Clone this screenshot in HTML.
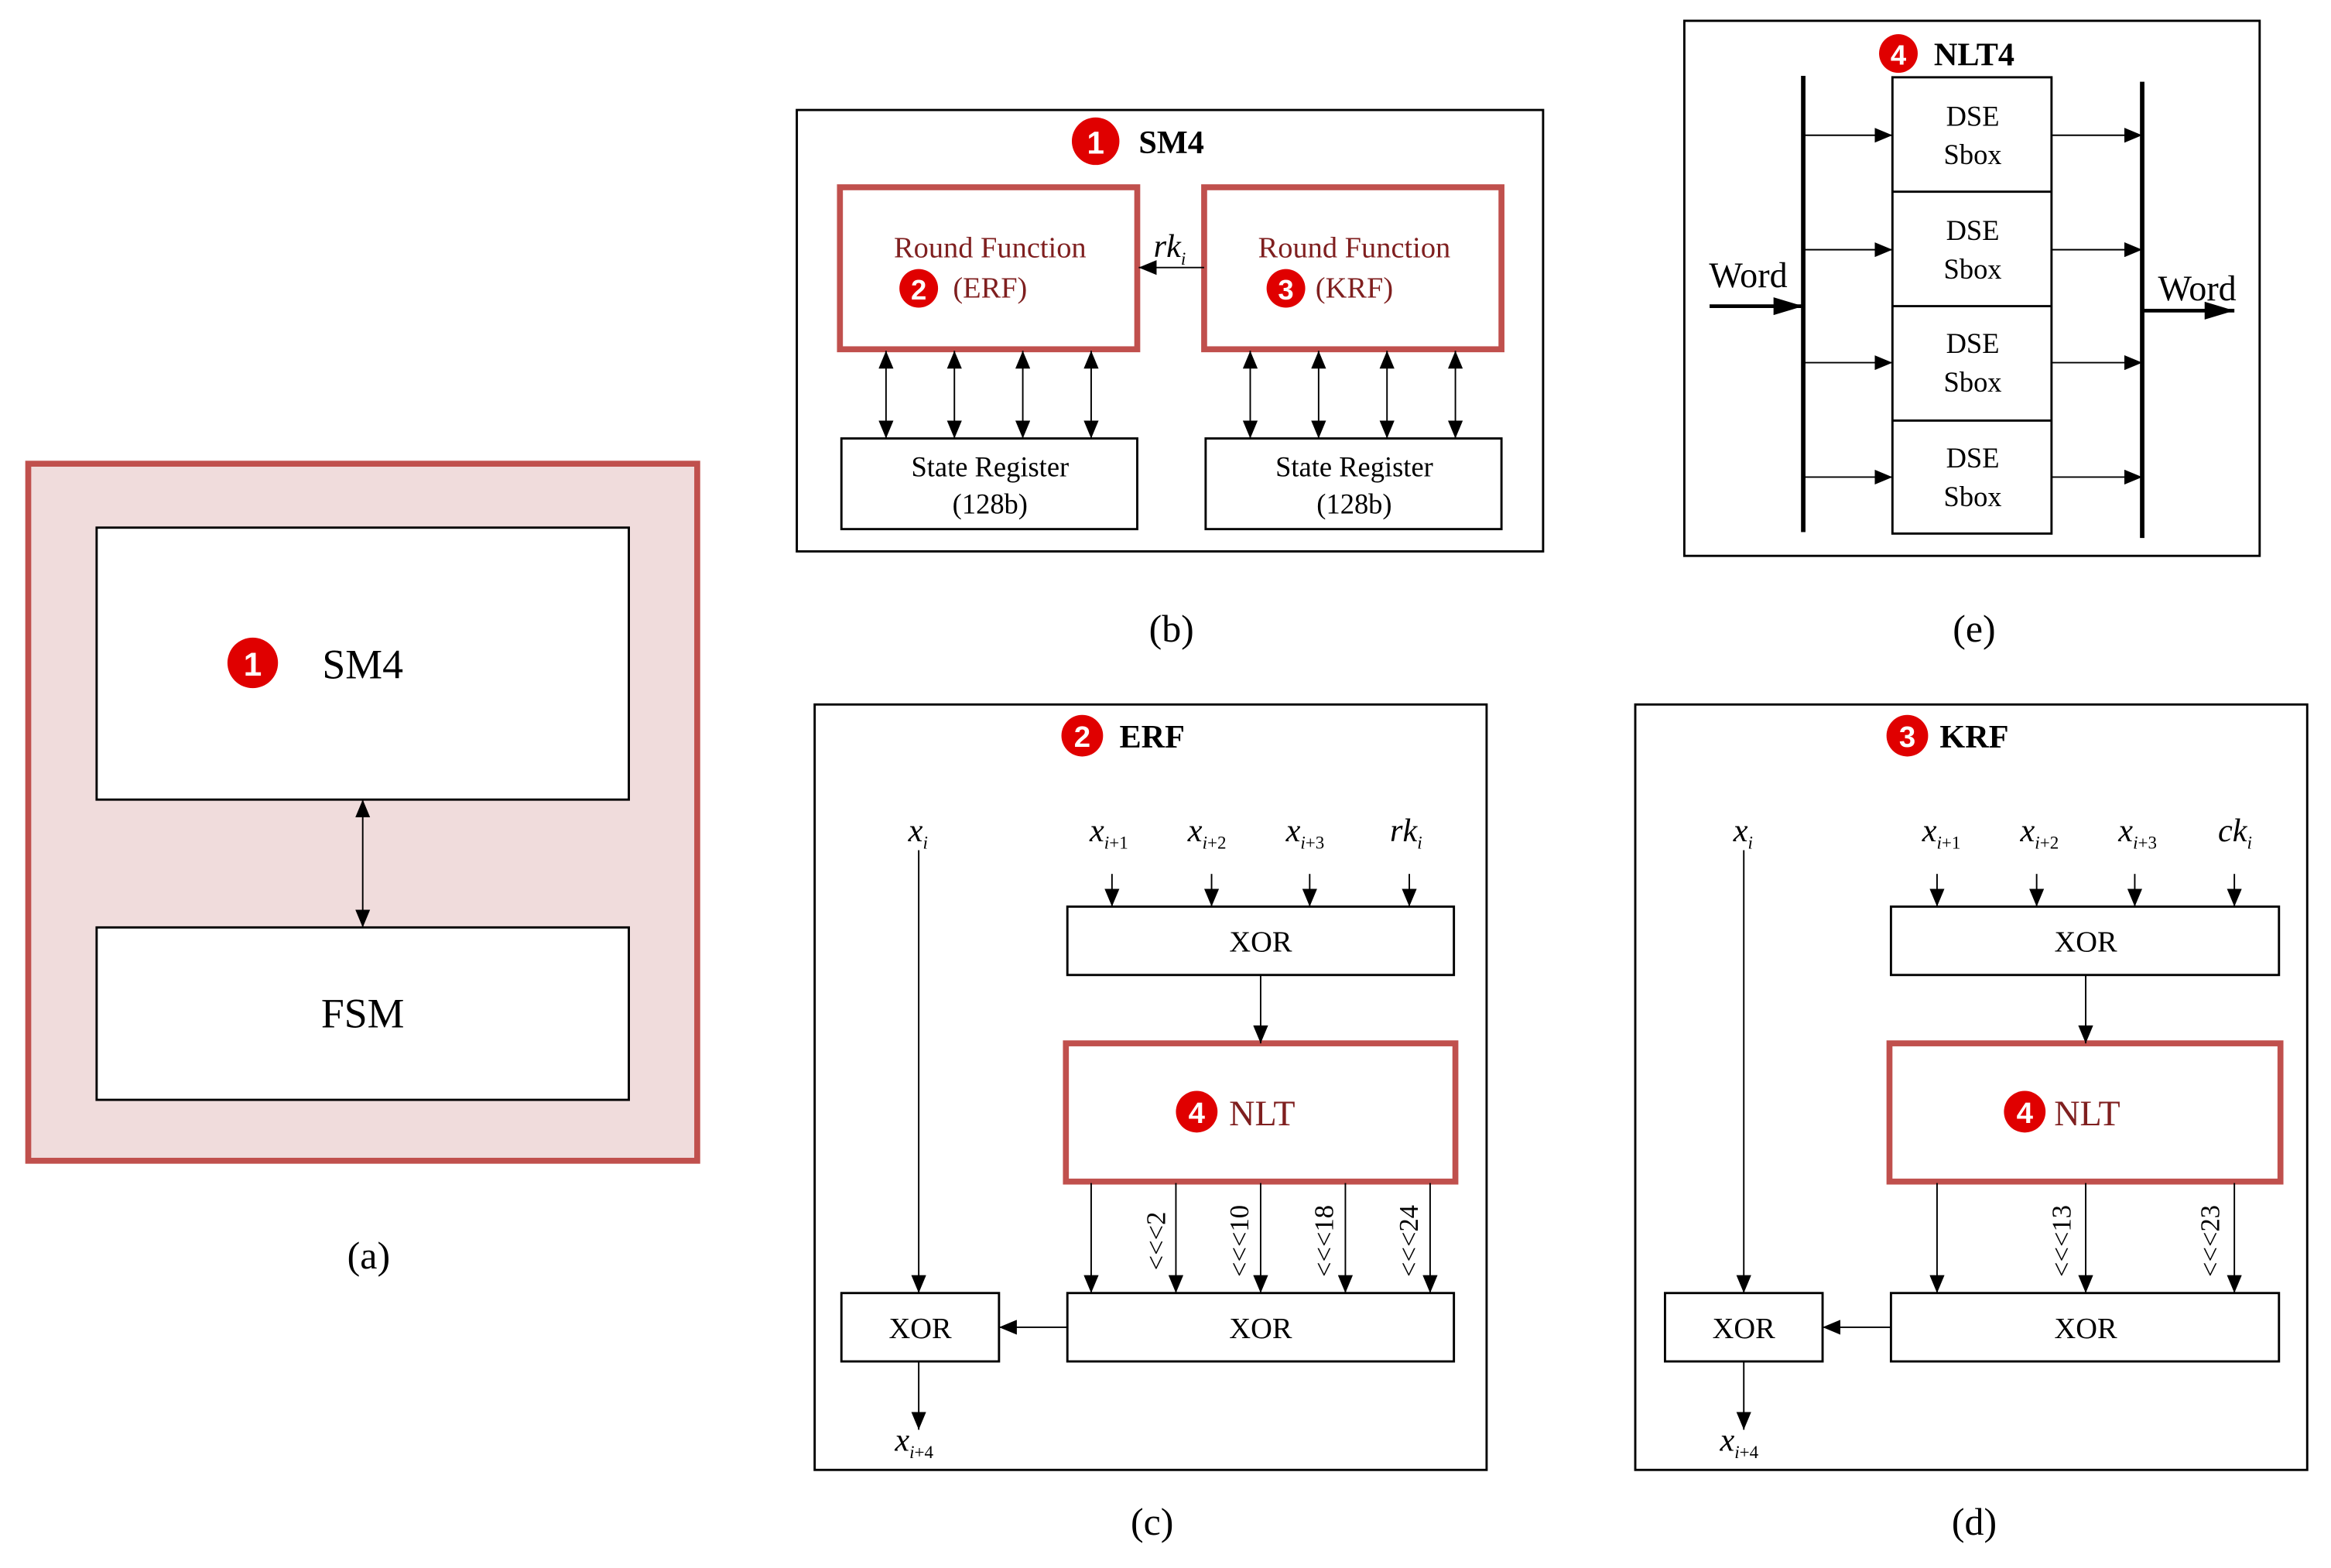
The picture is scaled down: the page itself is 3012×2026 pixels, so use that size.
<!DOCTYPE html>
<html><head><meta charset="utf-8"><style>html,body{margin:0;padding:0;background:#fff}svg{display:block}svg text{font-family:"Liberation Serif",serif}svg .sans{font-family:"Liberation Sans",sans-serif}</style></head>
<body>
<svg xmlns="http://www.w3.org/2000/svg" width="3012" height="2026" viewBox="0 0 1568 1055" preserveAspectRatio="none">
<defs>
<marker id="a" markerWidth="12" markerHeight="10" refX="12" refY="5" orient="auto-start-reverse" markerUnits="userSpaceOnUse"><path d="M0,0 L12,5 L0,10 z" fill="#000"/></marker>
<marker id="b" markerWidth="20" markerHeight="12" refX="20" refY="6" orient="auto" markerUnits="userSpaceOnUse"><path d="M0,0 L20,6 L0,12 z" fill="#000"/></marker>
</defs>
<rect width="1568" height="1055" fill="#fff"/>
<g fill="none" stroke="#000" stroke-width="1.5">
<rect x="19" y="312" width="450" height="469" fill="#f0dcdc" stroke="#c0504d" stroke-width="4"/>
<rect x="65" y="355" width="358" height="183" fill="#fff"/>
<rect x="65" y="624" width="358" height="116" fill="#fff"/>
<line x1="244" y1="538" x2="244" y2="624" stroke-width="1" marker-start="url(#a)" marker-end="url(#a)"/>
<rect x="536" y="74" width="502" height="297"/>
<rect x="565" y="126" width="200" height="109" stroke="#c0504d" stroke-width="4"/>
<rect x="810" y="126" width="200" height="109" stroke="#c0504d" stroke-width="4"/>
<line x1="810" y1="180" x2="766" y2="180" stroke-width="1" marker-end="url(#a)"/>
<rect x="566" y="295" width="199" height="61"/>
<rect x="811" y="295" width="199" height="61"/>
<g stroke-width="1">
<line x1="596" y1="236" x2="596" y2="295" marker-start="url(#a)" marker-end="url(#a)"/>
<line x1="642" y1="236" x2="642" y2="295" marker-start="url(#a)" marker-end="url(#a)"/>
<line x1="688" y1="236" x2="688" y2="295" marker-start="url(#a)" marker-end="url(#a)"/>
<line x1="734" y1="236" x2="734" y2="295" marker-start="url(#a)" marker-end="url(#a)"/>
<line x1="841" y1="236" x2="841" y2="295" marker-start="url(#a)" marker-end="url(#a)"/>
<line x1="887" y1="236" x2="887" y2="295" marker-start="url(#a)" marker-end="url(#a)"/>
<line x1="933" y1="236" x2="933" y2="295" marker-start="url(#a)" marker-end="url(#a)"/>
<line x1="979" y1="236" x2="979" y2="295" marker-start="url(#a)" marker-end="url(#a)"/>
</g>
<rect x="1133" y="14" width="387" height="360"/>
<line x1="1213" y1="51" x2="1213" y2="358" stroke-width="3"/>
<line x1="1441" y1="55" x2="1441" y2="362" stroke-width="3"/>
<rect x="1273" y="52" width="107" height="307"/>
<line x1="1273" y1="129" x2="1380" y2="129"/><line x1="1273" y1="206" x2="1380" y2="206"/><line x1="1273" y1="283" x2="1380" y2="283"/>
<g stroke-width="1">
<line x1="1213" y1="91" x2="1273" y2="91" marker-end="url(#a)"/><line x1="1380" y1="91" x2="1441" y2="91" marker-end="url(#a)"/>
<line x1="1213" y1="168" x2="1273" y2="168" marker-end="url(#a)"/><line x1="1380" y1="168" x2="1441" y2="168" marker-end="url(#a)"/>
<line x1="1213" y1="244" x2="1273" y2="244" marker-end="url(#a)"/><line x1="1380" y1="244" x2="1441" y2="244" marker-end="url(#a)"/>
<line x1="1213" y1="321" x2="1273" y2="321" marker-end="url(#a)"/><line x1="1380" y1="321" x2="1441" y2="321" marker-end="url(#a)"/>
</g>
<line x1="1150" y1="206" x2="1213" y2="206" stroke-width="2.5" marker-end="url(#b)"/>
<line x1="1441" y1="209" x2="1503" y2="209" stroke-width="2.5" marker-end="url(#b)"/>
<rect x="548" y="474" width="452" height="515"/>
<rect x="718" y="610" width="260" height="46"/>
<rect x="717" y="702" width="262" height="93" stroke="#c0504d" stroke-width="4"/>
<rect x="718" y="870" width="260" height="46"/>
<rect x="566" y="870" width="106" height="46"/>
<g stroke-width="1">
<line x1="618" y1="572" x2="618" y2="870" marker-end="url(#a)"/>
<line x1="748" y1="588" x2="748" y2="610" marker-end="url(#a)"/>
<line x1="815" y1="588" x2="815" y2="610" marker-end="url(#a)"/>
<line x1="881" y1="588" x2="881" y2="610" marker-end="url(#a)"/>
<line x1="948" y1="588" x2="948" y2="610" marker-end="url(#a)"/>
<line x1="848" y1="656" x2="848" y2="702" marker-end="url(#a)"/>
<line x1="734" y1="796" x2="734" y2="870" marker-end="url(#a)"/>
<line x1="791" y1="796" x2="791" y2="870" marker-end="url(#a)"/>
<line x1="848" y1="796" x2="848" y2="870" marker-end="url(#a)"/>
<line x1="905" y1="796" x2="905" y2="870" marker-end="url(#a)"/>
<line x1="962" y1="796" x2="962" y2="870" marker-end="url(#a)"/>
<line x1="718" y1="893" x2="672" y2="893" marker-end="url(#a)"/>
<line x1="618" y1="916" x2="618" y2="962" marker-end="url(#a)"/>
</g>
<rect x="1100" y="474" width="452" height="515"/>
<rect x="1272" y="610" width="261" height="46"/>
<rect x="1271" y="702" width="263" height="93" stroke="#c0504d" stroke-width="4"/>
<rect x="1272" y="870" width="261" height="46"/>
<rect x="1120" y="870" width="106" height="46"/>
<g stroke-width="1">
<line x1="1173" y1="572" x2="1173" y2="870" marker-end="url(#a)"/>
<line x1="1303" y1="588" x2="1303" y2="610" marker-end="url(#a)"/>
<line x1="1370" y1="588" x2="1370" y2="610" marker-end="url(#a)"/>
<line x1="1436" y1="588" x2="1436" y2="610" marker-end="url(#a)"/>
<line x1="1503" y1="588" x2="1503" y2="610" marker-end="url(#a)"/>
<line x1="1403" y1="656" x2="1403" y2="702" marker-end="url(#a)"/>
<line x1="1303" y1="796" x2="1303" y2="870" marker-end="url(#a)"/>
<line x1="1403" y1="796" x2="1403" y2="870" marker-end="url(#a)"/>
<line x1="1503" y1="796" x2="1503" y2="870" marker-end="url(#a)"/>
<line x1="1272" y1="893" x2="1226" y2="893" marker-end="url(#a)"/>
<line x1="1173" y1="916" x2="1173" y2="962" marker-end="url(#a)"/>
</g>
</g>
<g fill="#e00000">
<circle cx="170" cy="446" r="17"/><circle cx="737" cy="95" r="16"/>
<circle cx="618" cy="194" r="13"/><circle cx="865" cy="194" r="13"/>
<circle cx="1277" cy="36" r="13"/><circle cx="728" cy="495" r="14"/>
<circle cx="1283" cy="495" r="14"/><circle cx="805" cy="748" r="14"/><circle cx="1362" cy="748" r="14"/>
</g>
<g fill="#fff" font-weight="bold" text-anchor="middle" dominant-baseline="central">
<text class="sans" x="170" y="447" font-size="22">1</text><text class="sans" x="737" y="96" font-size="21">1</text>
<text class="sans" x="618" y="195" font-size="19">2</text><text class="sans" x="865" y="195" font-size="19">3</text>
<text class="sans" x="1277" y="37" font-size="19">4</text><text class="sans" x="728" y="496" font-size="20">2</text>
<text class="sans" x="1283" y="496" font-size="20">3</text><text class="sans" x="805" y="749" font-size="20">4</text><text class="sans" x="1362" y="749" font-size="20">4</text>
</g>
<g fill="#000" text-anchor="middle" dominant-baseline="central">
<text x="244" y="447" font-size="28">SM4</text>
<text x="244" y="682" font-size="28">FSM</text>
<text x="248" y="845" font-size="26">(a)</text>
<text x="788" y="96" font-size="22" font-weight="bold">SM4</text>
<text x="788" y="423" font-size="26">(b)</text>
<text x="1328" y="423" font-size="26">(e)</text>
<text x="775" y="1024" font-size="26">(c)</text>
<text x="1328" y="1024" font-size="26">(d)</text>
<text x="666" y="314" font-size="19">State Register</text><text x="666" y="339" font-size="19">(128b)</text>
<text x="911" y="314" font-size="19">State Register</text><text x="911" y="339" font-size="19">(128b)</text>
<text x="1328" y="37" font-size="22" font-weight="bold">NLT4</text>
<text x="1327" y="78" font-size="19">DSE</text><text x="1327" y="104" font-size="19">Sbox</text>
<text x="1327" y="155" font-size="19">DSE</text><text x="1327" y="181" font-size="19">Sbox</text>
<text x="1327" y="231" font-size="19">DSE</text><text x="1327" y="257" font-size="19">Sbox</text>
<text x="1327" y="308" font-size="19">DSE</text><text x="1327" y="334" font-size="19">Sbox</text>
<text x="1176" y="185" font-size="24">Word</text>
<text x="1478" y="194" font-size="24">Word</text>
<text x="775" y="496" font-size="22" font-weight="bold">ERF</text>
<text x="1328" y="496" font-size="22" font-weight="bold">KRF</text>
<text x="848" y="634" font-size="20">XOR</text><text x="848" y="894" font-size="20">XOR</text><text x="619" y="894" font-size="20">XOR</text>
<text x="1403" y="634" font-size="20">XOR</text><text x="1403" y="894" font-size="20">XOR</text><text x="1173" y="894" font-size="20">XOR</text>
</g>
<g fill="#7f1f1f" font-size="20" text-anchor="middle" dominant-baseline="central">
<text x="666" y="167">Round Function</text><text x="666" y="194">(ERF)</text>
<text x="911" y="167">Round Function</text><text x="911" y="194">(KRF)</text>
<text x="849" y="749" font-size="24">NLT</text><text x="1404" y="749" font-size="24">NLT</text>
</g>
<g fill="#000" font-style="italic" font-size="22">
<text x="776" y="173">rk<tspan font-size="12" dy="5">i</tspan></text>
<text x="611" y="566">x<tspan font-size="12" dy="5">i</tspan></text>
<text x="733" y="566">x<tspan font-size="12" dy="5">i<tspan font-style="normal">+1</tspan></tspan></text>
<text x="799" y="566">x<tspan font-size="12" dy="5">i<tspan font-style="normal">+2</tspan></tspan></text>
<text x="865" y="566">x<tspan font-size="12" dy="5">i<tspan font-style="normal">+3</tspan></tspan></text>
<text x="935" y="566">rk<tspan font-size="12" dy="5">i</tspan></text>
<text x="602" y="976">x<tspan font-size="12" dy="5">i<tspan font-style="normal">+4</tspan></tspan></text>
<text x="1166" y="566">x<tspan font-size="12" dy="5">i</tspan></text>
<text x="1293" y="566">x<tspan font-size="12" dy="5">i<tspan font-style="normal">+1</tspan></tspan></text>
<text x="1359" y="566">x<tspan font-size="12" dy="5">i<tspan font-style="normal">+2</tspan></tspan></text>
<text x="1425" y="566">x<tspan font-size="12" dy="5">i<tspan font-style="normal">+3</tspan></tspan></text>
<text x="1492" y="566">ck<tspan font-size="12" dy="5">i</tspan></text>
<text x="1157" y="976">x<tspan font-size="12" dy="5">i<tspan font-style="normal">+4</tspan></tspan></text>
</g>
<g fill="#000" font-size="18" text-anchor="middle" dominant-baseline="central">
<text transform="translate(778,835) rotate(-90)">&lt;&lt;&lt;2</text>
<text transform="translate(834,835) rotate(-90)">&lt;&lt;&lt;10</text>
<text transform="translate(891,835) rotate(-90)">&lt;&lt;&lt;18</text>
<text transform="translate(948,835) rotate(-90)">&lt;&lt;&lt;24</text>
<text transform="translate(1387,835) rotate(-90)">&lt;&lt;&lt;13</text>
<text transform="translate(1487,835) rotate(-90)">&lt;&lt;&lt;23</text>
</g>
</svg>
</body></html>
